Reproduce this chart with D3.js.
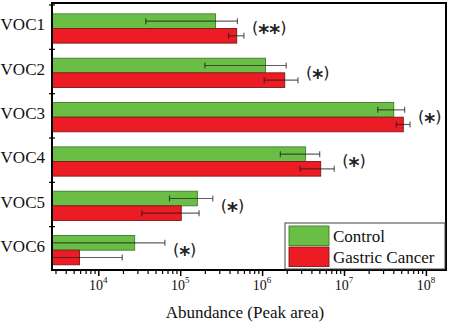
<!DOCTYPE html>
<html>
<head>
<meta charset="utf-8">
<script src="https://cdn.jsdelivr.net/npm/d3@7"></script>
<style>
  body { margin: 0; background: #fff; }
  svg { display: block; }
  .serif { font-family: "Liberation Serif", "DejaVu Serif", "Times New Roman", Times, serif; }
</style>
</head>
<body>
<div id="chart"></div>
<script>
// data
const categories = ["VOC1", "VOC2", "VOC3", "VOC4", "VOC5", "VOC6"];
const groups = ["Control", "Gastric Cancer"];
const controlMean = [2.7e5, 1.1e6, 4.05e7, 3.4e6, 1.62e5, 2.78e4];
const controlLow  = [3.8e4, 2.0e5, 2.58e7, 1.67e6, 7.4e4, 1.0e3];
const controlHigh = [5.0e5, 1.97e6, 5.5e7, 5.05e6, 2.5e5, 6.5e4];
const cancerMean  = [4.9e5, 1.89e6, 5.3e7, 5.2e6, 1.03e5, 5.9e3];
const cancerLow   = [3.9e5, 1.06e6, 4.35e7, 2.9e6, 3.4e4, 1.0e3];
const cancerHigh  = [6.0e5, 2.74e6, 6.4e7, 7.6e6, 1.7e5, 1.96e4];
const signif = ["(**)", "(*)", "(*)", "(*)", "(*)", "(*)"];
const majorTicks = [1e4, 1e5, 1e6, 1e7, 1e8];

const W = 450, H = 327;
const plot = {left: 52, right: 446, top: 3, bottom: 270};
const colors = {"Control": "#6abd45", "Gastric Cancer": "#ed1c24"};
const strokes = {"Control": "#3f7d2b", "Gastric Cancer": "#7a1a1a"};

const svg = d3.select("#chart").append("svg")
  .attr("width", W).attr("height", H);

const x = d3.scaleLog().domain([2720, 1.76e8]).range([plot.left, plot.right]).clamp(true);
const y = d3.scaleBand().domain(categories).range([5, 271]).padding(0);
const ySub = d3.scaleBand().domain(groups)
  .range([y.bandwidth() * 0.2, y.bandwidth() * 0.86]);

const rows = [];
categories.forEach((c, i) => {
  rows.push({cat: c, grp: "Control", v: controlMean[i], lo: controlLow[i], hi: controlHigh[i]});
  rows.push({cat: c, grp: "Gastric Cancer", v: cancerMean[i], lo: cancerLow[i], hi: cancerHigh[i]});
});

// bars
svg.append("g").selectAll("rect")
  .data(rows)
  .join("rect")
  .attr("x", plot.left)
  .attr("y", d => y(d.cat) + ySub(d.grp))
  .attr("width", d => x(d.v) - plot.left)
  .attr("height", ySub.bandwidth())
  .attr("fill", d => colors[d.grp])
  .attr("stroke", d => strokes[d.grp])
  .attr("stroke-width", 0.9);

// error bars
const eb = svg.append("g")
  .attr("stroke", "rgba(30,30,30,0.7)")
  .attr("stroke-width", 1.2);
rows.forEach(d => {
  const cy = y(d.cat) + ySub(d.grp) + ySub.bandwidth() / 2;
  eb.append("line").attr("x1", x(d.lo)).attr("x2", x(d.hi)).attr("y1", cy).attr("y2", cy);
  [d.lo, d.hi].forEach(v => {
    if (x(v) > plot.left + 1) {
      eb.append("line").attr("x1", x(v)).attr("x2", x(v)).attr("y1", cy - 3).attr("y2", cy + 3);
    }
  });
});

// significance marks
categories.forEach((c, i) => {
  const hx = x(Math.max(controlHigh[i], cancerHigh[i])) + 8;
  const t = svg.append("text")
    .attr("x", hx)
    .attr("y", y(c) + y.bandwidth() / 2 + 6)
    .style("font-family", "'DejaVu Sans', sans-serif")
    .attr("font-size", 16)
    .attr("fill", "#222");
  const stars = signif[i].replace(/[()]/g, "");
  t.append("tspan").text("(");
  t.append("tspan").attr("dy", 7).attr("font-size", 21).attr("font-weight", "bold").text(stars);
  t.append("tspan").attr("dy", -7).text(")");
});

// category labels
svg.append("g").selectAll("text")
  .data(categories)
  .join("text")
  .attr("class", "serif")
  .attr("x", 45)
  .attr("y", d => y(d) + y.bandwidth() / 2 + 3)
  .attr("text-anchor", "end")
  .attr("font-size", 17)
  .attr("fill", "#111")
  .text(d => d);

// y ticks at band boundaries
svg.append("g").selectAll("line")
  .data(categories)
  .join("line")
  .attr("x1", plot.left - 3).attr("x2", plot.left + 3)
  .attr("y1", d => y(d)).attr("y2", d => y(d))
  .attr("stroke", "#000").attr("stroke-width", 1.2);

// x axis: minor and major ticks
const minor = [];
for (let e = 3; e <= 8; e++) {
  for (let m = 2; m <= 9; m++) {
    const v = m * Math.pow(10, e);
    if (v >= x.domain()[0] && v <= x.domain()[1]) minor.push(v);
  }
}
svg.append("g")
  .attr("transform", `translate(0,${plot.bottom})`)
  .call(d3.axisBottom(x).tickValues(minor).tickSize(4).tickFormat(""))
  .call(g => g.select(".domain").remove())
  .selectAll("line").attr("stroke-width", 1.2);

const major = svg.append("g")
  .attr("transform", `translate(0,${plot.bottom})`)
  .call(d3.axisBottom(x).tickValues(majorTicks).tickSize(6).tickFormat(""))
  .call(g => g.select(".domain").remove());
major.selectAll("line").attr("stroke-width", 1.5);

svg.append("g").selectAll("text")
  .data(majorTicks)
  .join("text")
  .attr("class", "serif")
  .attr("x", d => x(d))
  .attr("y", 290)
  .attr("text-anchor", "middle")
  .attr("font-size", 14)
  .attr("fill", "#111")
  .each(function(d) {
    const t = d3.select(this);
    t.append("tspan").text("10");
    t.append("tspan").attr("dy", -7).attr("font-size", 9).text(Math.round(Math.log10(d)));
  });

// frame
svg.append("rect")
  .attr("x", plot.left).attr("y", plot.top)
  .attr("width", plot.right - plot.left).attr("height", plot.bottom - plot.top)
  .attr("fill", "none").attr("stroke", "#000").attr("stroke-width", 2);

// axis title
svg.append("text")
  .attr("class", "serif")
  .attr("x", 245).attr("y", 318)
  .attr("text-anchor", "middle")
  .attr("font-size", 17)
  .attr("fill", "#111")
  .text("Abundance (Peak area)");

// legend
const lg = svg.append("g");
lg.append("rect")
  .attr("x", 285).attr("y", 223).attr("width", 160).attr("height", 46)
  .attr("fill", "#fff").attr("stroke", "#444").attr("stroke-width", 1);
groups.forEach((g, i) => {
  lg.append("rect")
    .attr("x", 289).attr("y", 226 + i * 21).attr("width", 40).attr("height", 19.5)
    .attr("fill", colors[g]).attr("stroke", strokes[g]).attr("stroke-width", 0.9);
  lg.append("text")
    .attr("class", "serif")
    .attr("x", 333).attr("y", 242 + i * 21)
    .attr("font-size", 17)
    .attr("fill", "#111")
    .text(g);
});
</script>
</body>
</html>
